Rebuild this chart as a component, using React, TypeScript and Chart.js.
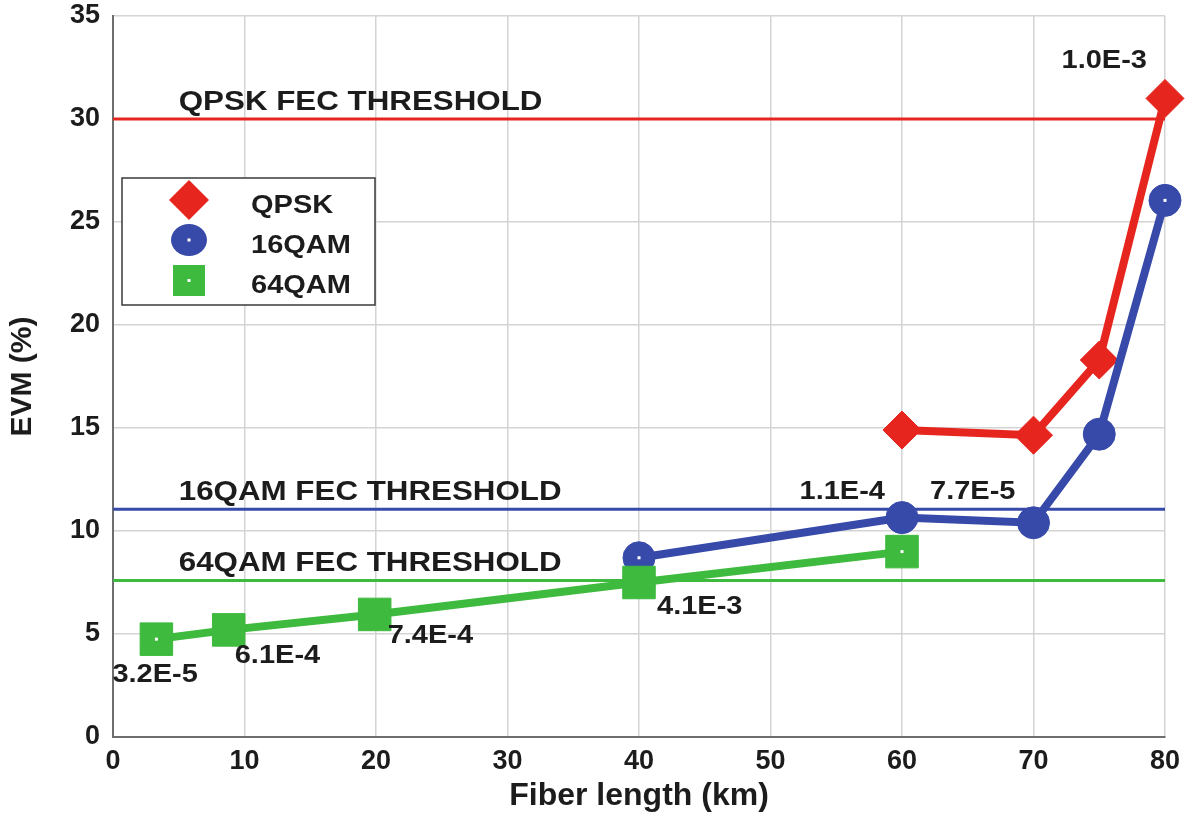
import React, { useEffect, useRef } from "react";
import { Chart, registerables } from "chart.js";

Chart.register(...registerables);

// ---- data ----
const xTicks = [0, 10, 20, 30, 40, 50, 60, 70, 80];
const yTicks = [0, 5, 10, 15, 20, 25, 30, 35];

const seriesNames = ["QPSK", "16QAM", "64QAM"];
const qpskX = [60, 70, 75, 80];
const qpskY = [14.9, 14.65, 18.3, 31.0];
const qam16X = [40, 60, 70, 75, 80];
const qam16Y = [8.7, 10.65, 10.4, 14.7, 26.05];
const qam64X = [3.3, 8.8, 19.9, 40, 60];
const qam64Y = [4.75, 5.2, 5.95, 7.5, 9.0];

const thresholdNames = ["QPSK FEC THRESHOLD", "16QAM FEC THRESHOLD", "64QAM FEC THRESHOLD"];
const thresholdValues = [30, 11.05, 7.6];

// BER annotations: text, series index, point index
const berLabels = ["1.0E-3", "1.1E-4", "7.7E-5", "4.1E-3", "3.2E-5", "6.1E-4", "7.4E-4"];
const berSeries = [0, 1, 1, 2, 2, 2, 2];
const berPoint = [3, 1, 2, 3, 0, 1, 2];

// ---- styles ----
const RED = "rgb(230,38,30)";
const BLUE = "rgb(55,74,170)";
const GREEN = "rgb(62,186,62)";
const FONT = "'Liberation Sans', Arial, Helvetica, sans-serif";
const SX = 1.16;

const berPlacement = [
  { align: "right", dx: -18, dy: -30 },
  { align: "right", dx: -17, dy: -19 },
  { align: "right", dx: -18, dy: -24 },
  { align: "left", dx: 18, dy: 31 },
  { align: "left", dx: -44, dy: 43 },
  { align: "left", dx: 6, dy: 33 },
  { align: "left", dx: 13, dy: 29 },
];

function stretchedText(ctx: CanvasRenderingContext2D, text: string, x: number, y: number, size: number, align: string) {
  ctx.save();
  ctx.font = `bold ${size}px ${FONT}`;
  ctx.textBaseline = "alphabetic";
  ctx.textAlign = "left";
  ctx.fillStyle = "#1c1c1c";
  const w = ctx.measureText(text).width * SX;
  const left = align === "right" ? x - w : x;
  ctx.translate(left, y);
  ctx.scale(SX, 1);
  ctx.fillText(text, 0, 0);
  ctx.restore();
}

const overlayPlugin = {
  id: "overlay",
  beforeDraw(chart: any) {
    const ctx = chart.ctx;
    ctx.save();
    ctx.fillStyle = "#ffffff";
    ctx.fillRect(0, 0, chart.width, chart.height);
    ctx.restore();
  },
  afterDatasetsDraw(chart: any) {
    const ctx: CanvasRenderingContext2D = chart.ctx;
    const xs = chart.scales.x;
    const ys = chart.scales.y;

    // white center dots on end markers of 16QAM and 64QAM
    const dotSpecs = [
      [1, 0], [1, qam16X.length - 1], [2, 0], [2, qam64X.length - 1],
    ];
    ctx.save();
    ctx.fillStyle = "#ffffff";
    dotSpecs.forEach(([s, i]) => {
      const el = chart.getDatasetMeta(s).data[i];
      if (el) ctx.fillRect(el.x - 1.5, el.y - 1.5, 3, 3);
    });
    ctx.restore();

    // threshold labels
    thresholdNames.forEach((name, i) => {
      const px = xs.getPixelForValue(5);
      const py = ys.getPixelForValue(thresholdValues[i]) - 9;
      stretchedText(ctx, name, px, py, 27, "left");
    });

    // BER labels
    berLabels.forEach((t, i) => {
      const el = chart.getDatasetMeta(berSeries[i]).data[berPoint[i]];
      if (!el) return;
      const p = berPlacement[i];
      stretchedText(ctx, t, el.x + p.dx, el.y + p.dy, 25, p.align);
    });

    // legend
    const lx = 122, ly = 178, lw = 253, lh = 127;
    ctx.save();
    ctx.fillStyle = "#ffffff";
    ctx.fillRect(lx, ly, lw, lh);
    ctx.strokeStyle = "#3a3a3a";
    ctx.lineWidth = 1.5;
    ctx.strokeRect(lx, ly, lw, lh);
    const mx = 189;
    // diamond
    ctx.fillStyle = RED;
    ctx.beginPath();
    ctx.moveTo(mx, 180);
    ctx.lineTo(mx + 20, 200);
    ctx.lineTo(mx, 220);
    ctx.lineTo(mx - 20, 200);
    ctx.closePath();
    ctx.fill();
    // ellipse
    ctx.fillStyle = BLUE;
    ctx.beginPath();
    ctx.ellipse(mx, 240, 18, 16, 0, 0, Math.PI * 2);
    ctx.fill();
    // square
    ctx.fillStyle = GREEN;
    ctx.fillRect(mx - 16, 265, 32, 31);
    ctx.fillStyle = "#ffffff";
    ctx.fillRect(mx - 1.5, 238.5, 3, 3);
    ctx.fillRect(mx - 1.5, 279, 3, 3);
    ctx.restore();
    const legendBaselines = [213, 253, 293];
    seriesNames.forEach((n, i) => stretchedText(ctx, n, 251, legendBaselines[i], 25, "left"));
  },
};

function pts(xv: number[], yv: number[]) {
  return xv.map((x, i) => ({ x, y: yv[i] }));
}

export default function App() {
  const ref = useRef<HTMLCanvasElement | null>(null);

  useEffect(() => {
    document.body.style.margin = "0";
    const xMin = xTicks[0];
    const xMax = xTicks[xTicks.length - 1];
    const thresholdColors = [RED, BLUE, GREEN];

    const datasets: any[] = [
      {
        label: seriesNames[0],
        data: pts(qpskX, qpskY),
        borderColor: RED,
        backgroundColor: RED,
        borderWidth: 8,
        pointStyle: "rectRot",
        pointRadius: 19,
        pointBorderWidth: 1,
        order: 3,
        clip: false,
      },
      {
        label: seriesNames[1],
        data: pts(qam16X, qam16Y),
        borderColor: BLUE,
        backgroundColor: BLUE,
        borderWidth: 8,
        pointStyle: "circle",
        pointRadius: 16,
        pointBorderWidth: 1,
        order: 2,
        clip: false,
      },
      {
        label: seriesNames[2],
        data: pts(qam64X, qam64Y),
        borderColor: GREEN,
        backgroundColor: GREEN,
        borderWidth: 8,
        pointStyle: "rect",
        pointRadius: 23,
        pointBorderWidth: 1,
        order: 1,
        clip: false,
      },
      ...thresholdNames.map((name, i) => ({
        label: name,
        data: [
          { x: xMin, y: thresholdValues[i] },
          { x: xMax, y: thresholdValues[i] },
        ],
        borderColor: thresholdColors[i],
        backgroundColor: thresholdColors[i],
        borderWidth: 3,
        pointRadius: 0,
        order: 4 + i,
      })),
    ];

    const chart = new Chart(ref.current as HTMLCanvasElement, {
      type: "line",
      data: { datasets },
      plugins: [overlayPlugin],
      options: {
        animation: false,
        responsive: true,
        maintainAspectRatio: false,
        layout: { autoPadding: false, padding: { top: 16, right: 24, left: 0, bottom: 0 } },
        plugins: {
          legend: { display: false },
          tooltip: { enabled: false },
        },
        elements: { line: { tension: 0 } },
        scales: {
          x: {
            type: "linear",
            min: xMin,
            max: xMax,
            afterBuildTicks: (scale: any) => {
              scale.ticks = xTicks.map((v) => ({ value: v }));
            },
            afterFit: (scale: any) => {
              scale.height = 81;
              scale.paddingLeft = 0;
              scale.paddingRight = 0;
            },
            grid: { color: "rgb(212,212,212)", lineWidth: 1.5, drawTicks: false },
            border: { color: "rgb(110,110,110)", width: 2 },
            ticks: {
              color: "#1c1c1c",
              padding: 8,
              maxRotation: 0,
              autoSkip: false,
              font: { family: FONT, size: 27, weight: "bold" },
            },
            title: {
              display: true,
              text: "Fiber length (km)",
              color: "#1c1c1c",
              font: { family: FONT, size: 32, weight: "bold" },
              padding: { top: 0, bottom: 3 },
            },
          },
          y: {
            type: "linear",
            min: yTicks[0],
            max: yTicks[yTicks.length - 1],
            afterBuildTicks: (scale: any) => {
              scale.ticks = yTicks.map((v) => ({ value: v }));
            },
            afterFit: (scale: any) => {
              scale.width = 113;
              scale.paddingTop = 0;
              scale.paddingBottom = 0;
            },
            grid: { color: "rgb(212,212,212)", lineWidth: 1.5, drawTicks: false },
            border: { color: "rgb(110,110,110)", width: 2 },
            ticks: {
              color: "#1c1c1c",
              padding: 13,
              autoSkip: false,
              font: { family: FONT, size: 27, weight: "bold" },
            },
            title: {
              display: true,
              text: "EVM (%)",
              color: "#1c1c1c",
              font: { family: FONT, size: 30, weight: "bold" },
              padding: { top: 5, bottom: 0 },
            },
          },
        },
      } as any,
    });
    return () => chart.destroy();
  }, []);

  return (
    <div style={{ position: "fixed", left: 0, top: 0, width: 1189, height: 818, background: "#fff" }}>
      <canvas ref={ref} />
    </div>
  );
}
